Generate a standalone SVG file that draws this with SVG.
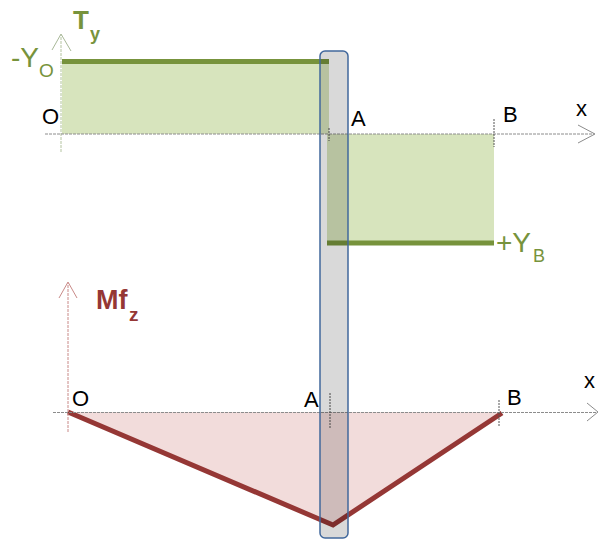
<svg xmlns="http://www.w3.org/2000/svg" width="598" height="539" viewBox="0 0 598 539">
<style>
text{font-family:"Liberation Sans",Arial,sans-serif}
.axis{fill:none;stroke:#8c8c8c;stroke-width:1;stroke-dasharray:3 1}
.axg{fill:none;stroke:#b4c4a0;stroke-width:1;stroke-dasharray:3 1}
.axr{fill:none;stroke:#c98a88;stroke-width:1;stroke-dasharray:3 1}
.head{fill:none;stroke:#8c8c8c;stroke-width:1}
.tick{stroke:#555;stroke-width:1;stroke-dasharray:2 1}
.gfill{fill:#d7e4bd}
.gline{stroke:#77933c;stroke-width:5}
.lbl{fill:#000;font-size:22px}
.gt{fill:#77933c}
.rt{fill:#953735;font-weight:bold}
</style>
<g id="top-diagram">
  <g id="ty-areas">
    <rect class="gfill" x="62" y="61" width="267" height="73"/>
    <rect class="gfill" x="327" y="134" width="167" height="109"/>
    <line class="gline" x1="62" y1="61.5" x2="329" y2="61.5"/>
    <line class="gline" x1="327" y1="243" x2="494" y2="243"/>
  </g>
  <g id="ty-axes">
    <line class="axg" x1="61" y1="152" x2="61" y2="35"/>
    <polyline class="head" stroke="#a8b898" points="52,50 61,34 71,51" style="stroke:#a8b898"/>
    <line class="axis" x1="45" y1="134" x2="594" y2="134"/>
    <polyline class="head" points="578,125 595,134 578,143"/>
    <line class="tick" x1="494" y1="119" x2="494" y2="147"/>
    <line class="tick" x1="329" y1="128" x2="329" y2="141"/>
  </g>
  <g id="ty-labels">
    <text class="gt" x="73" y="29" font-size="26" font-weight="bold">T</text>
    <text class="gt" x="90" y="40" font-size="18" font-weight="bold">y</text>
    <text class="gt" x="11" y="67" font-size="28">-Y</text>
    <text class="gt" x="39" y="77" font-size="19">O</text>
    <text class="lbl" x="42" y="124">O</text>
    <text class="lbl" x="351" y="126">A</text>
    <text class="lbl" x="503" y="122">B</text>
    <text class="lbl" x="576" y="116" font-size="21">x</text>
    <text class="gt" x="496" y="252" font-size="28">+Y</text>
    <text class="gt" x="533" y="262" font-size="18">B</text>
  </g>
</g>
<g id="bottom-diagram">
  <g id="mf-area">
    <polygon points="68,412 333,525 502,412" fill="#f2dcdb"/>
    <polyline points="68,412 333,525 502,413" fill="none" stroke="#953735" stroke-width="5"/>
  </g>
  <g id="mf-axes">
    <line class="axr" x1="68" y1="432" x2="68" y2="283"/>
    <polyline class="head" points="59,298 68,282 77,298" style="stroke:#c98a88"/>
    <line class="axis" x1="53" y1="412.5" x2="597" y2="412.5"/>
    <polyline class="head" points="587,403 598,412 587,421"/>
    <line class="tick" x1="330" y1="393" x2="330" y2="428"/>
    <line class="tick" x1="499" y1="400" x2="499" y2="427"/>
  </g>
  <g id="mf-labels">
    <text class="rt" x="96" y="309" font-size="27">Mf</text>
    <text class="rt" x="129" y="321" font-size="19">z</text>
    <text class="lbl" x="72" y="406">O</text>
    <text class="lbl" x="304" y="407">A</text>
    <text class="lbl" x="507" y="405">B</text>
    <text class="lbl" x="584" y="388" font-size="21">x</text>
  </g>
</g>
<g id="section-A">
  <rect x="320" y="51" width="28" height="487" rx="5" fill="#000" fill-opacity="0.15" stroke="#41689c" stroke-width="1.5"/>
</g>
</svg>
